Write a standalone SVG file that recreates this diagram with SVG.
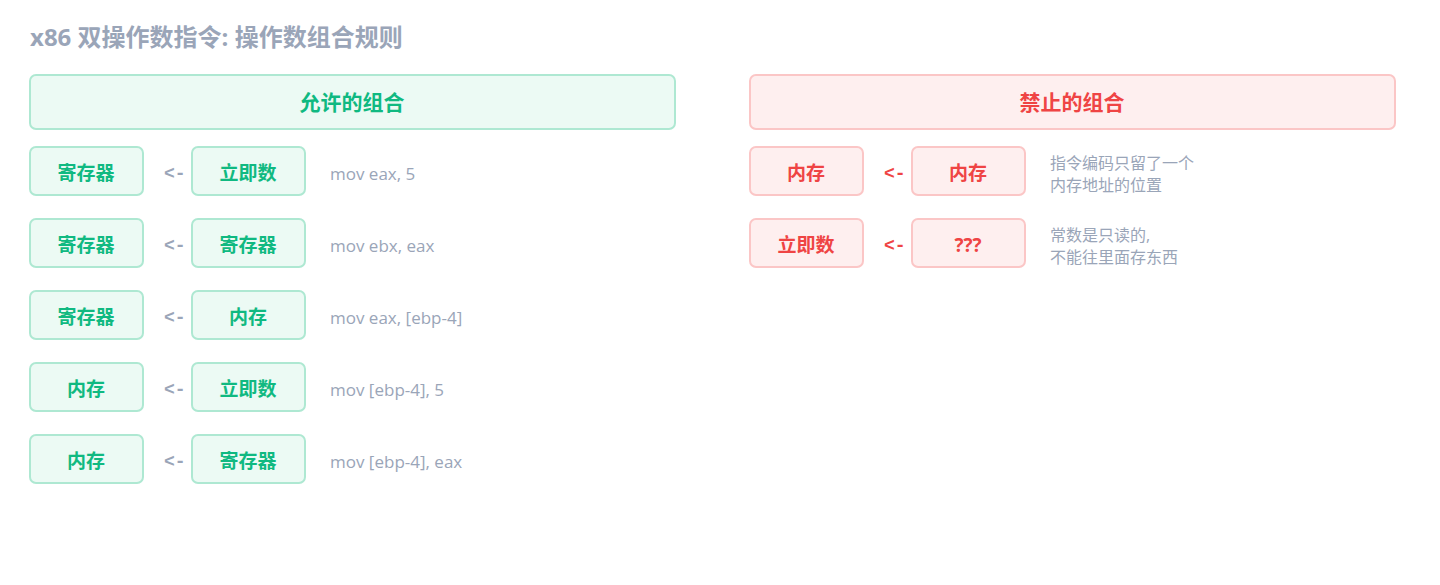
<svg xmlns="http://www.w3.org/2000/svg" width="1440" height="585" viewBox="0 0 1440 585">
<style>
text{font-family:"Open Sans","Noto Sans CJK SC",sans-serif}
.t{font-size:24px;font-weight:bold;fill:#9aa5b8}
.g rect{fill:#ecfaf4;stroke:#aee8d2;stroke-width:2}
.r rect{fill:#feefef;stroke:#fbc6c6;stroke-width:2}
.g text{fill:#10b981;font-weight:bold;text-anchor:middle}
.r text{fill:#ef4444;font-weight:bold;text-anchor:middle}
.h{font-size:21px}
.b{font-size:19px}
.ag{fill:#9aa5b8;font-size:18px;font-weight:bold;font-family:"Liberation Mono",monospace}
.ar{fill:#ef4444;font-size:18px;font-weight:bold;font-family:"Liberation Mono",monospace}
.c{fill:#9aa5b8;font-size:17px}
.n{fill:#9aa5b8;font-size:16px}
</style>
<rect width="1440" height="585" fill="#fff"/>
<text class="t" x="30" y="46">x86 双操作数指令: 操作数组合规则</text>
<g id="hdr-allowed" class="g"><rect x="30" y="75" width="645" height="54" rx="6"/><text class="h" x="352" y="110">允许的组合</text></g>
<g id="hdr-forbidden" class="r"><rect x="750" y="75" width="645" height="54" rx="6"/><text class="h" x="1072" y="110">禁止的组合</text></g>
<g id="a1" class="g"><rect x="30" y="147" width="113" height="48" rx="6"/><text class="b" x="86" y="180">寄存器</text><rect x="192" y="147" width="113" height="48" rx="6"/><text class="b" x="248" y="180">立即数</text></g>
<g id="a2" class="g"><rect x="30" y="219" width="113" height="48" rx="6"/><text class="b" x="86" y="252">寄存器</text><rect x="192" y="219" width="113" height="48" rx="6"/><text class="b" x="248" y="252">寄存器</text></g>
<g id="a3" class="g"><rect x="30" y="291" width="113" height="48" rx="6"/><text class="b" x="86" y="324">寄存器</text><rect x="192" y="291" width="113" height="48" rx="6"/><text class="b" x="248" y="324">内存</text></g>
<g id="a4" class="g"><rect x="30" y="363" width="113" height="48" rx="6"/><text class="b" x="86" y="396">内存</text><rect x="192" y="363" width="113" height="48" rx="6"/><text class="b" x="248" y="396">立即数</text></g>
<g id="a5" class="g"><rect x="30" y="435" width="113" height="48" rx="6"/><text class="b" x="86" y="468">内存</text><rect x="192" y="435" width="113" height="48" rx="6"/><text class="b" x="248" y="468">寄存器</text></g>
<g id="f1" class="r"><rect x="750" y="147" width="113" height="48" rx="6"/><text class="b" x="806" y="180">内存</text><rect x="912" y="147" width="113" height="48" rx="6"/><text class="b" x="968" y="180">内存</text></g>
<g id="f2" class="r"><rect x="750" y="219" width="113" height="48" rx="6"/><text class="b" x="806" y="252">立即数</text><rect x="912" y="219" width="113" height="48" rx="6"/><text class="b" x="968" y="252">???</text></g>
<g id="connectors">
<text class="ag" x="164" y="179">&lt;-</text>
<text class="ag" x="164" y="251">&lt;-</text>
<text class="ag" x="164" y="323">&lt;-</text>
<text class="ag" x="164" y="395">&lt;-</text>
<text class="ag" x="164" y="467">&lt;-</text>
<text class="ar" x="884" y="179">&lt;-</text>
<text class="ar" x="884" y="251">&lt;-</text>
</g>
<g id="labels">
<text class="c" x="330" y="180">mov eax, 5</text>
<text class="c" x="330" y="252">mov ebx, eax</text>
<text class="c" x="330" y="324">mov eax, [ebp-4]</text>
<text class="c" x="330" y="396">mov [ebp-4], 5</text>
<text class="c" x="330" y="468">mov [ebp-4], eax</text>
<text class="n" x="1050" y="169">指令编码只留了一个</text>
<text class="n" x="1050" y="191">内存地址的位置</text>
<text class="n" x="1050" y="241">常数是只读的,</text>
<text class="n" x="1050" y="263">不能往里面存东西</text>
</g>
</svg>
